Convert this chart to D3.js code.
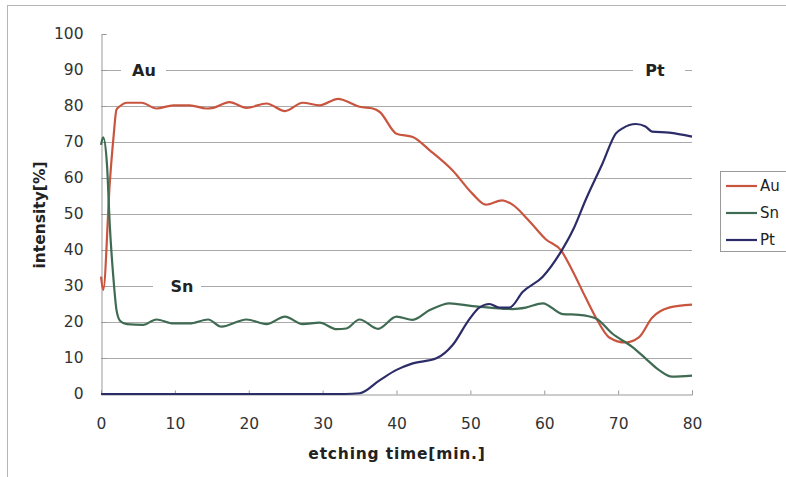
<!DOCTYPE html>
<html>
<head>
<meta charset="utf-8">
<script src="https://cdn.jsdelivr.net/npm/d3@7"></script>
<style>
  body { margin: 0; background: #fff; }
  svg { display: block; font-family: "DejaVu Sans", sans-serif; }
</style>
</head>
<body>
<div id="chart"></div>
<script>
const kSvgWidth = 786;
const kSvgHeight = 477;

// values
const auTime   = [0, 0.3, 1.2, 1.7, 2.1, 2.6, 3.5, 5.5, 7.5, 9.8, 12, 14.3, 15.2, 17.4, 19.7, 22.4, 24.9, 27.3, 29.6, 32.1, 32.9, 35, 36.8, 37.7, 40, 42.2, 44.5, 47.6, 50.3, 52.1, 54.3, 55.7, 57.9, 60.2, 62.3, 63.8, 65.6, 67, 68.8, 71, 72.8, 74.6, 76.9, 80];
const auValues = [32.6, 28.9, 59, 71.5, 79, 80, 80.9, 80.9, 79.3, 80.2, 80.2, 79.3, 79.5, 81.1, 79.5, 80.7, 78.6, 80.9, 80.2, 82, 81.6, 79.8, 79.3, 78.4, 72.3, 71.4, 67.7, 62.1, 55.6, 52.6, 53.8, 52.6, 48.2, 43, 39.8, 34.3, 26.8, 21.2, 15.7, 14.3, 15.7, 21.2, 24, 24.8];

const snTime   = [0, 0.3, 0.8, 1.2, 1.7, 2.1, 2.6, 3.5, 5.7, 7.5, 9.8, 12, 14.5, 16.3, 19.7, 22.4, 24.9, 27.3, 29.6, 31.9, 33.2, 35, 37.5, 40, 42.2, 44.5, 47.2, 50.3, 52.6, 55.7, 57.5, 59.8, 62.5, 64.7, 67, 69.2, 71.9, 73.7, 75.5, 77.3, 80];
const snValues = [69.2, 71.3, 64, 46.5, 31.7, 23.3, 20.3, 19.4, 19.2, 20.7, 19.6, 19.6, 20.7, 18.7, 20.7, 19.4, 21.5, 19.4, 19.8, 18, 18.2, 20.7, 18.1, 21.5, 20.6, 23.3, 25.2, 24.4, 24, 23.6, 24, 25.2, 22.2, 22, 21, 16.8, 13.1, 9.9, 6.7, 4.8, 5.1];

const ptTime   = [0, 10, 20, 30, 33, 35, 37.7, 40, 42.2, 45.4, 47.6, 49.8, 51.2, 52.6, 53.9, 55.3, 57.1, 59.8, 62.1, 63.9, 65.6, 67.9, 69.7, 70.6, 72.4, 73.7, 74.6, 76.9, 80];
const ptValues = [0, 0, 0, 0, 0, 0.2, 3.8, 6.7, 8.5, 9.9, 13.6, 20.6, 24, 25, 24, 24, 28.4, 32.6, 39, 45.6, 53.9, 64.1, 72.4, 73.8, 75, 74.3, 72.9, 72.6, 71.5];

const seriesNames = ["Au", "Sn", "Pt"];
const seriesColors = ["#c9553f", "#3f6b52", "#2c2d68"];
const xTicks = [0, 10, 20, 30, 40, 50, 60, 70, 80];
const yTicks = [0, 10, 20, 30, 40, 50, 60, 70, 80, 90, 100];

const series = [
  { name: "Au", time: auTime, values: auValues },
  { name: "Sn", time: snTime, values: snValues },
  { name: "Pt", time: ptTime, values: ptValues }
];

const svg = d3.select("#chart")
  .append("svg")
  .attr("width", kSvgWidth)
  .attr("height", kSvgHeight);

// outer chart frame
svg.append("rect")
  .attr("x", 7.5).attr("y", 5.5)
  .attr("width", 800).attr("height", 500)
  .attr("fill", "none").attr("stroke", "#b5b5b5");

const xScale = d3.scaleLinear().domain([0, 80]).range([101, 692]);
const yScale = d3.scaleLinear().domain([0, 100]).range([394, 34]);

// gridlines
svg.append("g")
  .selectAll("line")
  .data(yTicks.filter(d => d > 0 && d < 100))
  .enter()
  .append("line")
  .attr("x1", xScale(0)).attr("x2", xScale(80))
  .attr("y1", d => Math.round(yScale(d)) + 0.5)
  .attr("y2", d => Math.round(yScale(d)) + 0.5)
  .attr("stroke", "#a9a9a9");

// y axis
const yAxis = d3.axisLeft(yScale).tickValues(yTicks).tickSize(-5).tickPadding(18);
svg.append("g")
  .attr("transform", `translate(${xScale(0) + 0.5}, 0)`)
  .call(yAxis)
  .call(g => g.selectAll("line").attr("stroke", "#999"))
  .call(g => g.select(".domain").attr("stroke", "#999"))
  .call(g => g.selectAll("text").attr("font-size", 15.5).attr("fill", "#333")
    .attr("font-family", "DejaVu Sans, sans-serif"));

// x axis
const xAxis = d3.axisBottom(xScale).tickValues(xTicks).tickSize(-4).tickPadding(23);
svg.append("g")
  .attr("transform", `translate(0, ${yScale(0) + 0.5})`)
  .call(xAxis)
  .call(g => g.selectAll("line").attr("stroke", "#999"))
  .call(g => g.select(".domain").attr("stroke", "#999"))
  .call(g => g.selectAll("text").attr("font-size", 15.5).attr("fill", "#333")
    .attr("font-family", "DejaVu Sans, sans-serif"));

// series lines
const line = d3.line()
  .x(d => xScale(d[0]))
  .y(d => yScale(d[1]))
  .curve(d3.curveMonotoneX);

svg.append("g")
  .selectAll("path")
  .data(series)
  .enter()
  .append("path")
  .attr("d", s => line(s.time.map((t, i) => [t, s.values[i]])))
  .attr("fill", "none")
  .attr("stroke", (s, i) => seriesColors[i])
  .attr("stroke-width", 2.2)
  .attr("stroke-linejoin", "round");

// in-plot labels, sitting on gridlines with a white gap
const labels = [
  { text: "Au", x: 144, y: 90, gap: [121, 166] },
  { text: "Sn", x: 182, y: 30, gap: [153, 201] },
  { text: "Pt", x: 655, y: 90, gap: [633, 685] }
];
labels.forEach(l => {
  svg.append("rect")
    .attr("x", l.gap[0]).attr("y", yScale(l.y) - 4)
    .attr("width", l.gap[1] - l.gap[0]).attr("height", 8)
    .attr("fill", "#fff");
  svg.append("text")
    .attr("x", l.x).attr("y", yScale(l.y) + 6)
    .attr("text-anchor", "middle")
    .attr("font-size", 16).attr("font-weight", "bold")
    .attr("fill", "#222")
    .text(l.text);
});

// axis titles
svg.append("text")
  .attr("transform", `translate(45, 215) rotate(-90)`)
  .attr("text-anchor", "middle")
  .attr("font-size", 15.5).attr("font-weight", "bold").attr("fill", "#222")
  .text("intensity[%]");

svg.append("text")
  .attr("x", 397).attr("y", 459)
  .attr("text-anchor", "middle")
  .attr("font-size", 15.5).attr("font-weight", "bold").attr("fill", "#222")
  .attr("letter-spacing", 0.8)
  .text("etching time[min.]");

// legend
const legend = svg.append("g");
legend.append("rect")
  .attr("x", 720.5).attr("y", 171.5)
  .attr("width", 80).attr("height", 80)
  .attr("fill", "#fff").attr("stroke", "#999");
seriesNames.forEach((n, i) => {
  const y = 186 + i * 27;
  legend.append("line")
    .attr("x1", 726).attr("x2", 757)
    .attr("y1", y).attr("y2", y)
    .attr("stroke", seriesColors[i]).attr("stroke-width", 2.2);
  legend.append("text")
    .attr("x", 760).attr("y", y + 5)
    .attr("font-size", 15).attr("fill", "#222")
    .text(n);
});
</script>
</body>
</html>
